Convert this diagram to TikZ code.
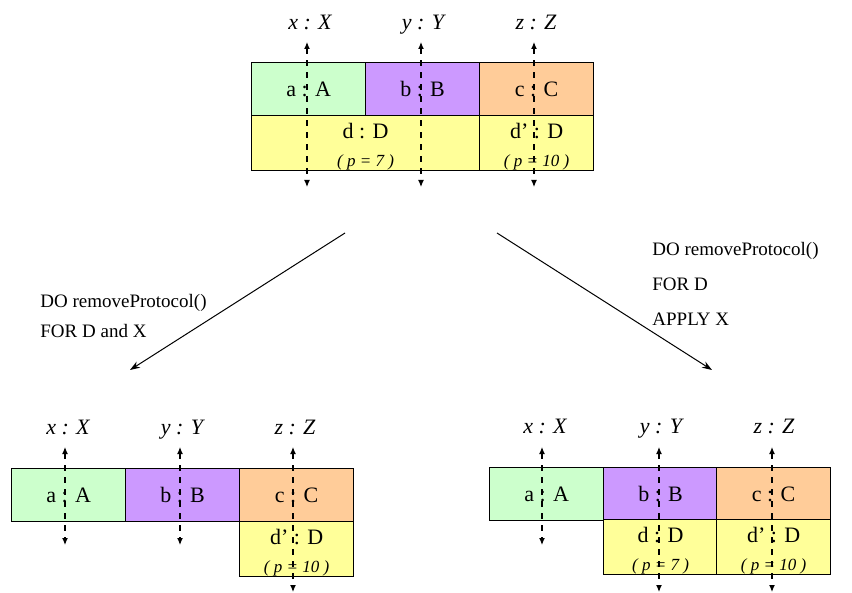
\documentclass[tikz,border=0pt]{standalone}
\usepackage{fontspec}
\setmainfont{Liberation Serif}
\usepackage{xcolor}
\usetikzlibrary{arrows.meta}

\definecolor{cellA}{RGB}{204,255,204}
\definecolor{cellB}{RGB}{204,153,255}
\definecolor{cellC}{RGB}{255,204,153}
\definecolor{cellD}{RGB}{255,255,153}

\tikzset{
    cell/.style={draw, line width=0.6pt, minimum width=57pt, minimum height=26.5pt,
        inner sep=0pt, anchor=north west, align=center, font=\fontsize{11}{12}\selectfont},
    probe/.style={dashed, line width=0.6pt, {Latex[length=3.5pt,width=3pt]}-{Latex[length=3.5pt,width=3pt]}},
    varname/.style={anchor=base, font=\fontsize{11}{12}\selectfont\itshape},
    rule/.style={anchor=north west, align=left, inner sep=0pt},
    move/.style={line width=0.5pt, -{Stealth[length=5pt,width=3.5pt]}}
}
\newcommand{\pval}[1]{\\[2pt]{\fontsize{8.5}{9}\selectfont\itshape ( p = #1 )}}
\newcommand{\dstrut}{\rule{0pt}{11.5pt}}

\begin{document}
\begin{tikzpicture}[x=0.5pt, y=-0.5pt]
    \useasboundingbox (0,0) rectangle (852,593);

    % top: before the change
    \node[cell, fill=cellA] (ta) at (251,62) {a : A};
    \node[cell, fill=cellB] (tb) at (365,62) {b : B};
    \node[cell, fill=cellC] (tc) at (479,62) {c : C};
    \node[cell, fill=cellD, minimum width=114pt] (td) at (251,115) {\dstrut d : D\pval{7}};
    \node[cell, fill=cellD] (tdd) at (479,115) {\dstrut d' : D\pval{10}};

    \node[varname] (tx) at (310,30) {x : X};
    \node[varname] (ty) at (423,30) {y : Y};
    \node[varname] (tz) at (536,30) {z : Z};
    \coordinate (tx1) at (307,42);  \coordinate (tx2) at (307,187);
    \coordinate (ty1) at (421,42);  \coordinate (ty2) at (421,187);
    \coordinate (tz1) at (534,42);  \coordinate (tz2) at (534,187);
    \draw[probe] (tx1) -- (tx2);
    \draw[probe] (ty1) -- (ty2);
    \draw[probe] (tz1) -- (tz2);

    % the two ways of removing
    \coordinate (ml1) at (345,233);  \coordinate (ml2) at (130,370);
    \coordinate (mr1) at (497,233);  \coordinate (mr2) at (712,370);
    \draw[move] (ml1) -- (ml2);
    \draw[move] (mr1) -- (mr2);

    \node[rule, font=\fontsize{9.5}{15}\selectfont] (rl) at (40,294)
        {DO removeProtocol()\\FOR D and X};
    \node[rule, font=\fontsize{9.5}{17.5}\selectfont] (rr) at (652,242)
        {DO removeProtocol()\\FOR D\\APPLY X};

    % bottom left
    \node[cell, fill=cellA] (la) at (11,468) {a : A};
    \node[cell, fill=cellB] (lb) at (125,468) {b : B};
    \node[cell, fill=cellC] (lc) at (239,468) {c : C};
    \node[cell, fill=cellD] (ldd) at (239,521) {\dstrut d' : D\pval{10}};

    \node[varname] (lx) at (68,435) {x : X};
    \node[varname] (ly) at (182,435) {y : Y};
    \node[varname] (lz) at (295,435) {z : Z};
    \coordinate (lx1) at (65,447);   \coordinate (lx2) at (65,545);
    \coordinate (ly1) at (180,447);  \coordinate (ly2) at (180,545);
    \coordinate (lz1) at (293,447);  \coordinate (lz2) at (293,592);
    \draw[probe] (lx1) -- (lx2);
    \draw[probe] (ly1) -- (ly2);
    \draw[probe] (lz1) -- (lz2);

    % bottom right
    \node[cell, fill=cellA] (ra) at (489,467) {a : A};
    \node[cell, fill=cellB] (rb) at (603,467) {b : B};
    \node[cell, fill=cellC] (rc) at (716,467) {c : C};
    \node[cell, fill=cellD] (rd) at (603,519) {\dstrut d : D\pval{7}};
    \node[cell, fill=cellD] (rdd) at (716,519) {\dstrut d' : D\pval{10}};

    \node[varname] (rx) at (545,434) {x : X};
    \node[varname] (ry) at (661,434) {y : Y};
    \node[varname] (rz) at (774,434) {z : Z};
    \coordinate (rx1) at (542,447);  \coordinate (rx2) at (542,545);
    \coordinate (ry1) at (659,447);  \coordinate (ry2) at (659,592);
    \coordinate (rz1) at (772,447);  \coordinate (rz2) at (772,592);
    \draw[probe] (rx1) -- (rx2);
    \draw[probe] (ry1) -- (ry2);
    \draw[probe] (rz1) -- (rz2);
\end{tikzpicture}
\end{document}
